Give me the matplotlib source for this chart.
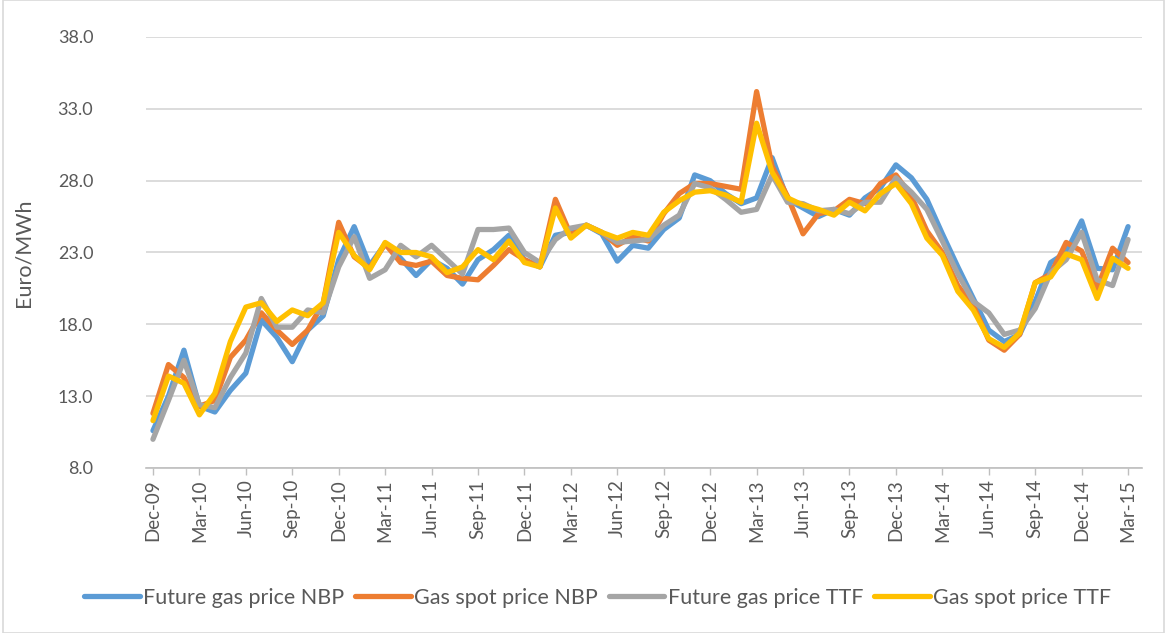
import matplotlib
matplotlib.use("Agg")
import matplotlib.pyplot as plt
from matplotlib.patches import Rectangle

plt.rcParams['font.family'] = ['Lato', 'DejaVu Sans']

months = ["Dec-09", "Jan-10", "Feb-10", "Mar-10", "Apr-10", "May-10", "Jun-10", "Jul-10", "Aug-10", "Sep-10",
          "Oct-10", "Nov-10", "Dec-10", "Jan-11", "Feb-11", "Mar-11", "Apr-11", "May-11", "Jun-11", "Jul-11",
          "Aug-11", "Sep-11", "Oct-11", "Nov-11", "Dec-11", "Jan-12", "Feb-12", "Mar-12", "Apr-12", "May-12",
          "Jun-12", "Jul-12", "Aug-12", "Sep-12", "Oct-12", "Nov-12", "Dec-12", "Jan-13", "Feb-13", "Mar-13",
          "Apr-13", "May-13", "Jun-13", "Jul-13", "Aug-13", "Sep-13", "Oct-13", "Nov-13", "Dec-13", "Jan-14",
          "Feb-14", "Mar-14", "Apr-14", "May-14", "Jun-14", "Jul-14", "Aug-14", "Sep-14", "Oct-14", "Nov-14",
          "Dec-14", "Jan-15", "Feb-15", "Mar-15"]

future_nbp = [10.6, 13.0, 16.2, 12.3, 11.9, 13.4, 14.6, 18.3, 17.1, 15.4,
              17.6, 18.6, 22.5, 24.8, 22.1, 23.6, 22.6, 21.4, 22.5, 21.9,
              20.8, 22.5, 23.2, 24.2, 22.5, 22.0, 24.2, 24.4, 24.9, 24.3,
              22.4, 23.5, 23.3, 24.6, 25.4, 28.4, 28.0, 27.1, 26.4, 26.8,
              29.6, 26.7, 26.1, 25.5, 26.0, 25.6, 26.8, 27.5, 29.1, 28.2,
              26.7, 24.3, 22.0, 19.8, 17.6, 16.8, 17.3, 19.6, 22.3, 23.0,
              25.2, 21.9, 21.8, 24.8]

spot_nbp = [11.8, 15.2, 14.3, 12.3, 12.7, 15.7, 16.9, 18.8, 17.6, 16.6,
            17.6, 19.5, 25.1, 22.7, 21.9, 23.6, 22.3, 22.1, 22.4, 21.4,
            21.2, 21.1, 22.1, 23.2, 22.5, 22.0, 26.7, 24.2, 24.9, 24.4,
            23.5, 24.1, 23.8, 25.7, 27.1, 27.8, 27.8, 27.6, 27.4, 34.2,
            29.0, 26.9, 24.3, 25.7, 25.9, 26.7, 26.4, 27.8, 28.4, 26.9,
            24.5, 23.0, 20.7, 19.3, 16.9, 16.2, 17.3, 20.9, 21.5, 23.7,
            23.1, 20.5, 23.3, 22.3]

future_ttf = [10.0, 12.7, 15.5, 12.4, 12.2, 14.3, 16.0, 19.8, 17.8, 17.8,
              19.0, 18.8, 22.0, 24.1, 21.2, 21.8, 23.5, 22.7, 23.5, 22.5,
              21.5, 24.6, 24.6, 24.7, 23.0, 22.3, 23.9, 24.7, 24.9, 24.4,
              23.7, 23.8, 23.9, 24.9, 25.6, 27.8, 27.5, 26.7, 25.8, 26.0,
              28.4, 26.5, 26.4, 25.9, 26.0, 25.7, 26.5, 26.5, 28.2, 27.2,
              26.0, 23.8, 21.5, 19.6, 18.8, 17.3, 17.6, 19.1, 21.6, 22.5,
              24.4, 21.1, 20.7, 23.9]

spot_ttf = [11.3, 14.4, 13.9, 11.7, 13.2, 16.8, 19.2, 19.5, 18.2, 19.0,
            18.6, 19.5, 24.4, 22.8, 21.8, 23.7, 23.0, 23.0, 22.7, 21.6,
            22.0, 23.2, 22.5, 23.8, 22.3, 22.0, 26.1, 24.0, 24.9, 24.4,
            24.0, 24.4, 24.2, 25.8, 26.6, 27.2, 27.3, 27.0, 26.5, 32.0,
            28.6, 26.8, 26.3, 26.0, 25.6, 26.5, 25.9, 27.1, 27.8, 26.4,
            24.0, 22.8, 20.3, 19.0, 17.0, 16.4, 17.4, 20.9, 21.3, 22.9,
            22.5, 19.8, 22.6, 21.9]

series_names = ["Future gas price NBP", "Gas spot price NBP", "Future gas price TTF", "Gas spot price TTF"]
colors = ["#5B9BD5", "#ED7D31", "#A5A5A5", "#FFC000"]
yticks = [8.0, 13.0, 18.0, 23.0, 28.0, 33.0, 38.0]

W, H = 1167, 633
fig = plt.figure(figsize=(W / 100, H / 100), dpi=100)
ax = fig.add_axes([146 / W, 1 - 468 / H, (1142 - 146) / W, (468 - 37) / H])

x = list(range(len(months)))
for data, name, c in zip([future_nbp, spot_nbp, future_ttf, spot_ttf], series_names, colors):
    ax.plot(x, data, color=c, lw=3.8, label=name, solid_joinstyle='round', solid_capstyle='round')

ax.set_ylim(8, 38)
ax.set_xlim(-0.45, 63.9)
ax.set_yticks(yticks)
ax.set_yticklabels([f"{v:.1f}" for v in yticks], fontsize=13, color="#595959")
ax.tick_params(axis='y', length=0, pad=38)
ax.grid(axis='y', color="#D9D9D9", lw=1.3)
ax.set_axisbelow(True)

ax.set_xticks(x[::3])
ax.set_xticklabels(months[::3], rotation=90, fontsize=13.5, color="#595959")
ax.tick_params(axis='x', length=5, width=1, color="#BFBFBF", pad=3)

for s in ['top', 'right', 'left']:
    ax.spines[s].set_visible(False)
ax.spines['bottom'].set_color("#BFBFBF")
ax.spines['bottom'].set_linewidth(1.2)

ax.set_ylabel("Euro/MWh", fontsize=15.5, color="#595959")
ax.yaxis.set_label_coords(-0.113, 0.5)

fig.legend(loc='center', bbox_to_anchor=(0.512, 1 - 598 / H), ncol=4, frameon=False,
           fontsize=15.5, handlelength=2.6, handletextpad=0.15, columnspacing=0.5,
           labelcolor="#595959")

fig.patches.append(Rectangle((3 / W, 0), 1 - 6 / W, 1, transform=fig.transFigure,
                             fill=False, edgecolor="#D9D9D9", lw=1.2))

fig.savefig("out.png", dpi=100)
